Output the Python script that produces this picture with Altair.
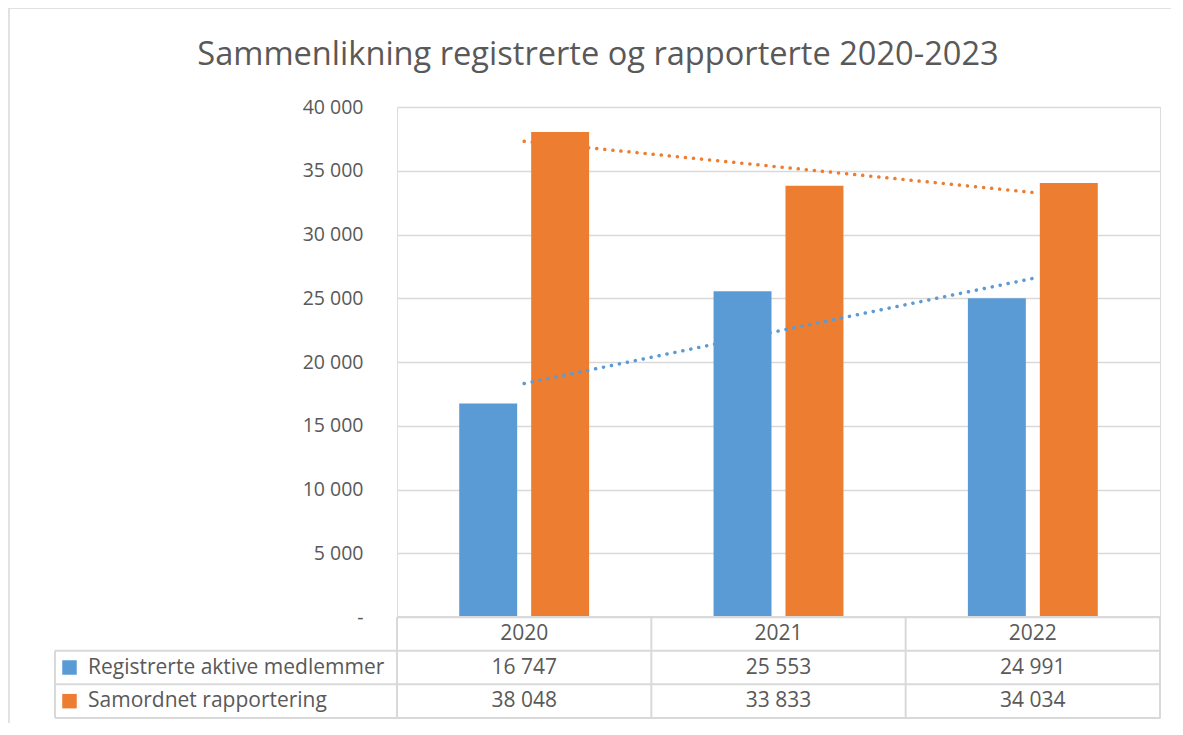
import altair as alt
import pandas as pd

# ---- data ----
years = ["2020", "2021", "2022"]
series = ["Registrerte aktive medlemmer", "Samordnet rapportering"]
registrerte = [16747, 25553, 24991]
samordnet = [38048, 33833, 34034]
y_ticks = [0, 5000, 10000, 15000, 20000, 25000, 30000, 35000, 40000]
title_text = "Sammenlikning registrerte og rapporterte 2020-2023"
colors = ["#5B9BD5", "#ED7D31"]

rows = []
for s, vals in zip(series, [registrerte, samordnet]):
    for i, (yr, v) in enumerate(zip(years, vals)):
        rows.append({"year": yr, "idx": i + 1, "series": s, "value": v,
                     "label": format(v, ",").replace(",", " ")})
df = pd.DataFrame(rows)
years_df = pd.DataFrame({"year": years, "row": ["header"] * len(years)})
series_df = pd.DataFrame({"series": series})
one = pd.DataFrame({"a": [0]})

FONT = "Open Sans"
TXT = "#595959"
GRID = "#D9D9D9"
W, H = 763, 510
TH = 101
LEFT = -342

color = alt.Color("series:N", scale=alt.Scale(domain=series, range=colors), legend=None)

# ---- top chart ----
bars = alt.Chart(df).mark_bar().encode(
    x=alt.X("year:N", sort=years, scale=alt.Scale(paddingInner=0, paddingOuter=0), axis=None),
    xOffset=alt.XOffset("series:N", sort=series,
                        scale=alt.Scale(paddingInner=0.1944, paddingOuter=0.865)),
    y=alt.Y("value:Q", scale=alt.Scale(domain=[0, 40000]),
            axis=alt.Axis(values=y_ticks, title=None, domain=False, ticks=False,
                          grid=True, gridColor=GRID, gridWidth=1.3,
                          labelFont=FONT, labelFontSize=19.5, labelColor=TXT, labelPadding=34,
                          labelExpr="datum.value == 0 ? '-' : replace(format(datum.value, ','), regexp(',', 'g'), ' ')")),
    color=color,
)

trend = alt.Chart(df).transform_regression(
    "idx", "value", groupby=["series"], extent=[1, 3]
).mark_line(strokeDash=[0.1, 8], strokeCap="round", strokeWidth=3.5).encode(
    x=alt.X("idx:Q", scale=alt.Scale(domain=[0.5, 3.5]), axis=None),
    y=alt.Y("value:Q"),
    color=color,
)

frame_top = alt.Chart(one).mark_rule(color=GRID, strokeWidth=1.5).encode(
    x=alt.value(-388), x2=alt.value(774), y=alt.value(-99))
frame_left = alt.Chart(one).mark_rule(color=GRID, strokeWidth=1.5).encode(
    x=alt.value(-388), y=alt.value(-99), y2=alt.value(H + TH + 5))

title = alt.Chart(one).mark_text(text=title_text, font=FONT, fontSize=32.6, color=TXT,
                                 align="center", baseline="alphabetic").encode(
    x=alt.value(201), y=alt.value(-42))

top = alt.layer(frame_top, frame_left, title, bars, trend).resolve_scale(
    x="independent").properties(width=W, height=H)

# ---- data table ----
tx = alt.X("year:N", sort=years, scale=alt.Scale(paddingInner=0, paddingOuter=0), axis=None)
row_scale = alt.Scale(domain=["header"] + series, paddingInner=0, paddingOuter=0)
TFS = 21

hdr = alt.Chart(years_df).mark_text(font=FONT, fontSize=TFS, color=TXT, baseline="middle").encode(
    x=tx, y=alt.Y("row:N", scale=row_scale, axis=None), text="year:N")
vals = alt.Chart(df).mark_text(font=FONT, fontSize=TFS, color=TXT, baseline="middle").encode(
    x=tx, y=alt.Y("series:N", scale=row_scale, axis=None), text="label:N")
names = alt.Chart(series_df).mark_text(font=FONT, fontSize=TFS, color=TXT, baseline="middle",
                                       align="left").encode(
    x=alt.value(LEFT + 33), y=alt.Y("series:N", scale=row_scale, axis=None), text="series:N")
keys = alt.Chart(series_df).mark_square(size=210, opacity=1).encode(
    x=alt.value(LEFT + 14.5), y=alt.Y("series:N", scale=row_scale, axis=None), color=color)

vlines = alt.Chart(years_df).mark_rule(color=GRID, strokeWidth=2).encode(
    x=alt.X("year:N", sort=years, scale=alt.Scale(paddingInner=0, paddingOuter=0),
            axis=None, bandPosition=0),
    y=alt.value(0), y2=alt.value(TH))
hlines = alt.Chart(series_df).mark_rule(color=GRID, strokeWidth=2).encode(
    y=alt.Y("series:N", scale=row_scale, axis=None, bandPosition=0),
    x=alt.value(LEFT), x2=alt.value(W))
box_top = alt.Chart(one).mark_rule(color=GRID, strokeWidth=2).encode(
    x=alt.value(0), x2=alt.value(W), y=alt.value(0))
box_bottom = alt.Chart(one).mark_rule(color=GRID, strokeWidth=2).encode(
    x=alt.value(LEFT), x2=alt.value(W), y=alt.value(TH))
box_right = alt.Chart(one).mark_rule(color=GRID, strokeWidth=2).encode(
    x=alt.value(W), y=alt.value(0), y2=alt.value(TH))
left_line = alt.Chart(series_df.head(1)).mark_rule(color=GRID, strokeWidth=2).encode(
    x=alt.value(LEFT),
    y=alt.Y("series:N", scale=row_scale, axis=None, bandPosition=0),
    y2=alt.value(TH))

table = alt.layer(vlines, hlines, box_top, box_bottom, box_right, left_line,
                  keys, names, hdr, vals).properties(width=W, height=TH)

chart = alt.vconcat(top, table, spacing=0, bounds="flush").properties(
    padding={"left": -1, "top": -2, "right": 0, "bottom": 0}
).configure_view(stroke=None).configure(font=FONT)

chart.save("out.html", embed_options={"renderer": "svg", "actions": False})
